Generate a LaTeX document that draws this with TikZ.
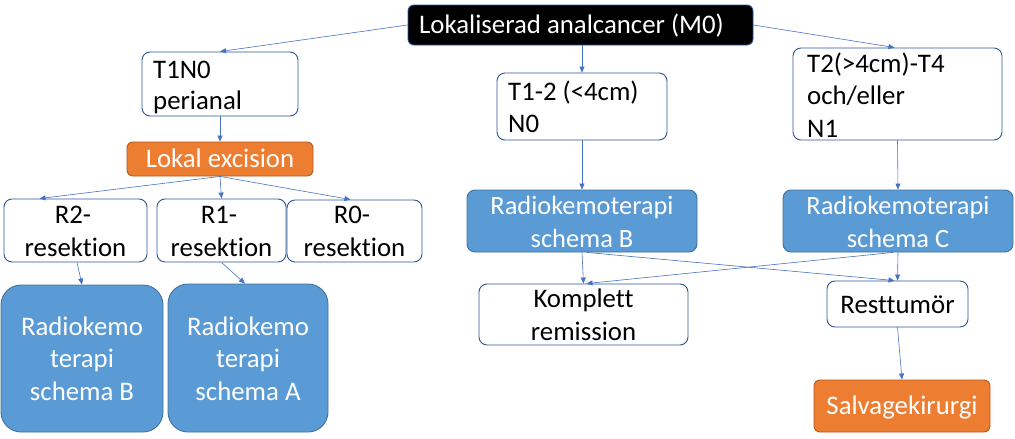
\documentclass[tikz,border=0pt]{standalone}
\usepackage{fontspec}
\setmainfont{Carlito}[Ligatures={TeX,NoCommon}]
\usetikzlibrary{arrows.meta,calc}
\definecolor{bluefill}{HTML}{5B9BD5}
\definecolor{blueedge}{HTML}{41719C}
\definecolor{orangefill}{HTML}{ED7D31}
\definecolor{orangeedge}{HTML}{AE5A21}
\definecolor{boxedge}{HTML}{2F5597}
\definecolor{arrowcol}{HTML}{4472C4}
\newcommand\fsA{\fontsize{26.8pt}{33pt}\selectfont}
\newcommand\fsB{\fontsize{26.4pt}{33pt}\selectfont}
\tikzset{
  x=1pt, y=-1pt,
  shapebox/.style={rectangle, inner sep=0pt, line width=0.9pt},
  whitebox/.style={shapebox, draw=boxedge, fill=white, rounded corners=8pt},
  bluebox/.style={shapebox, draw=blueedge, fill=bluefill, rounded corners=8pt},
  bigblue/.style={shapebox, draw=blueedge, fill=bluefill, rounded corners=20pt},
  orangebox/.style={shapebox, draw=orangeedge, fill=orangefill, rounded corners=6pt},
  blackbox/.style={shapebox, draw=boxedge, fill=black, rounded corners=6pt},
  txt/.style={inner sep=0pt, font=\fsA, text=black},
  wtxt/.style={txt, text=white},
  conn/.style={draw=arrowcol, line width=0.6pt, -{Triangle[length=6pt,width=5pt]}},
}
\begin{document}
\begin{tikzpicture}
\useasboundingbox (0,0) rectangle (1015,439);
% boxes
\node[blackbox, minimum width=345pt, minimum height=40pt] (top) at (580.5,25) {};
\node[whitebox, minimum width=156pt, minimum height=64pt] (t1n0) at (220,84) {};
\node[orangebox, minimum width=186pt, minimum height=34pt] (lokal) at (220,159) {};
\node[whitebox, minimum width=143pt, minimum height=63pt] (r2) at (75.5,230.5) {};
\node[whitebox, minimum width=129pt, minimum height=63pt] (r1) at (221.5,230.5) {};
\node[whitebox, minimum width=135pt, minimum height=62pt] (r0) at (354.5,231) {};
\node[bigblue, minimum width=162pt, minimum height=147pt] (lb) at (82,358.5) {};
\node[bigblue, minimum width=160pt, minimum height=148pt] (la) at (248,358) {};
\node[whitebox, minimum width=170pt, minimum height=67pt] (t12) at (582,106.5) {};
\node[whitebox, minimum width=209pt, minimum height=92pt] (t2) at (897.5,94) {};
\node[bluebox, minimum width=230pt, minimum height=62pt] (rkb) at (582,221) {};
\node[bluebox, minimum width=230pt, minimum height=62pt] (rkc) at (898,221) {};
\node[whitebox, minimum width=209pt, minimum height=61pt] (kr) at (583.5,314.5) {};
\node[whitebox, minimum width=141pt, minimum height=46pt] (rt) at (897.5,304) {};
\node[orangebox, minimum width=176pt, minimum height=52pt] (sal) at (902,406) {};
% texts
\node[wtxt, anchor=base west] (topT) at (419,34) {Lokaliserad analcancer (M0)};
\node[txt, anchor=base west] (t1n0a) at (153,78) {T1N0};
\node[txt, anchor=base west] (t1n0b) at (153,109) {perianal};
\node[wtxt, anchor=base] (lokalT) at (220,167) {Lokal excision};
\node[txt, anchor=base] (r2a) at (73,223) {R2-};
\node[txt, anchor=base] (r2b) at (75.5,256) {resektion};
\node[txt, anchor=base] (r1a) at (219,223) {R1-};
\node[txt, anchor=base] (r1b) at (221.5,256) {resektion};
\node[txt, anchor=base] (r0a) at (352,223) {R0-};
\node[txt, anchor=base] (r0b) at (354.5,256) {resektion};
\node[wtxt, anchor=base] (lba) at (82,335) {Radiokemo};
\node[wtxt, anchor=base] (lbb) at (82,367) {terapi};
\node[wtxt, anchor=base] (lbc) at (82,400) {schema B};
\node[wtxt, anchor=base] (laa) at (248,335) {Radiokemo};
\node[wtxt, anchor=base] (lab) at (248,367) {terapi};
\node[wtxt, anchor=base] (lac) at (248,400) {schema A};
\node[txt, anchor=base west] (t12a) at (508,100) {T1-2 (<4cm)};
\node[txt, anchor=base west] (t12b) at (508,132) {N0};
\node[txt, anchor=base west] (t2a) at (807,72) {T2(>4cm)-T4};
\node[txt, anchor=base west] (t2b) at (807,104) {och/eller};
\node[txt, anchor=base west] (t2c) at (807,137) {N1};
\node[wtxt, font=\fsB, anchor=base] (rkba) at (582,214) {Radiokemoterapi};
\node[wtxt, font=\fsB, anchor=base] (rkbb) at (582,247) {schema B};
\node[wtxt, font=\fsB, anchor=base] (rkca) at (898,214) {Radiokemoterapi};
\node[wtxt, font=\fsB, anchor=base] (rkcb) at (898,247) {schema C};
\node[txt, anchor=base] (kra) at (583.5,307) {Komplett};
\node[txt, anchor=base] (krb) at (583.5,340) {remission};
\node[txt, anchor=base] (rtT) at (897.5,313) {Resttumör};
\node[wtxt, anchor=base] (salT) at (902,414) {Salvagekirurgi};
% connectors
\draw[conn] (top.west) -- (t1n0.north);
\draw[conn] (t12.north |- top.south) -- (t12.north);
\draw[conn] (top.east) -- ($(t2.north)+(-3,0)$);
\draw[conn] (t1n0.south) -- (lokal.north);
\draw[conn] (lokal.south) -- ($(r2.north west)!0.25!(r2.north east)$);
\draw[conn] (lokal.south) -- (r1.north);
\draw[conn] (lokal.south) -- ($(r0.north)+(-4,0)$);
\draw[conn] ($(r2.south)+(1.5,0)$) -- (lb.north);
\draw[conn] (r1.south) -- ($(la.north)+(-3,0)$);
\draw[conn] (t12.south) -- (rkb.north);
\draw[conn] (t2.south) -- (rkc.north);
\draw[conn] (rkb.south) -- (kr.north);
\draw[conn] ($(rkb.south)+(5,0)$) -- ($(rt.north)+(-3,0)$);
\draw[conn] ($(rkc.south)+(-5,0)$) -- ($(kr.north)+(3,0)$);
\draw[conn] (rkc.south) -- (rt.north);
\draw[conn] (rt.south) -- (sal.north);
\end{tikzpicture}
\end{document}
